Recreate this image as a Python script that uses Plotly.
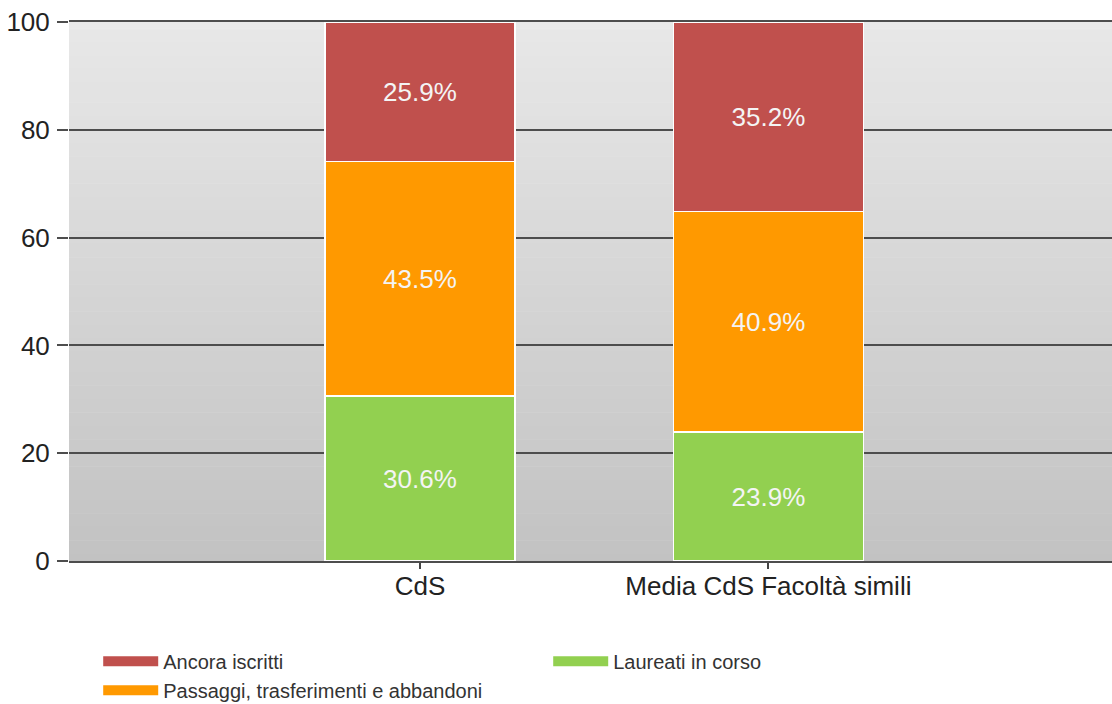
import plotly.graph_objects as go

categories = ["CdS", "Media CdS Facoltà simili"]
series_names = ["Laureati in corso", "Passaggi, trasferimenti e abbandoni", "Ancora iscritti"]
laureati = [30.6, 23.9]
passaggi = [43.5, 40.9]
ancora = [25.9, 35.2]
y_ticks = [0, 20, 40, 60, 80, 100]

colors = {"Laureati in corso": "#92d050", "Passaggi, trasferimenti e abbandoni": "#ff9900",
          "Ancora iscritti": "#c0504d"}
ranks = {"Ancora iscritti": 1, "Laureati in corso": 2, "Passaggi, trasferimenti e abbandoni": 3}
values = {"Laureati in corso": laureati, "Passaggi, trasferimenti e abbandoni": passaggi,
          "Ancora iscritti": ancora}

FONT = "Liberation Sans, Arial, sans-serif"
GRID = "#4d4d4d"
fig = go.Figure()
for name in series_names:
    vals = values[name]
    fig.add_trace(go.Bar(
        x=categories, y=vals, name=name, showlegend=False,
        marker=dict(color=colors[name], line=dict(color="white", width=1.5)),
        text=[f"{v:.1f}%" for v in vals], textposition="inside", insidetextanchor="middle",
        textfont=dict(color="#f4f4f4", size=26, family=FONT), width=0.545,
        hoverinfo="skip",
    ))
    fig.add_trace(go.Scatter(
        x=[None], y=[None], mode="lines", name=name, legendrank=ranks[name],
        line=dict(color=colors[name], width=12), showlegend=True,
    ))

# gradient background strips (styling only)
n = 80
top = (232, 232, 232)
bot = (194, 194, 194)
shapes = []
for i in range(n):
    t = (i + 0.5) / n
    c = tuple(int(round(top[k] + (bot[k] - top[k]) * t)) for k in range(3))
    shapes.append(dict(type="rect", xref="paper", yref="paper", x0=0, x1=1,
                       y0=1 - (i + 1) / n, y1=1 - i / n + 0.001, layer="below",
                       line=dict(width=0), fillcolor=f"rgb{c}"))

fig.update_layout(
    barmode="stack", width=1112, height=704,
    margin=dict(l=69, r=0, t=22, b=143, autoexpand=False),
    paper_bgcolor="white", plot_bgcolor="white",
    shapes=shapes,
    font=dict(family=FONT, color="#333333"),
    xaxis=dict(range=[-1.007, 1.986], showgrid=False, ticks="outside", ticklen=6,
               tickcolor="#444444", tickwidth=1.5, tickfont=dict(size=26, color="#222222"),
               showline=True, linecolor=GRID, linewidth=2, mirror=True,
               layer="below traces", zeroline=False, fixedrange=True,
               ticklabelstandoff=-5),
    yaxis=dict(range=[0, 100], tickvals=y_ticks, showgrid=True, gridcolor=GRID,
               gridwidth=2, ticks="outside", ticklen=11, tickcolor=GRID, tickwidth=2,
               tickfont=dict(size=26, color="#222222"), zeroline=False, showline=False,
               ticklabelstandoff=2),
    legend=dict(orientation="h", x=0.028, xanchor="left", y=-0.15, yanchor="top",
                entrywidth=380, entrywidthmode="pixels", itemwidth=55,
                font=dict(size=20, color="#333333"), bgcolor="rgba(0,0,0,0)",
                traceorder="normal"),
    showlegend=True,
)
fig.write_html("out.html", config={"displayModeBar": False},
               post_script="document.body.style.margin='0px';")
